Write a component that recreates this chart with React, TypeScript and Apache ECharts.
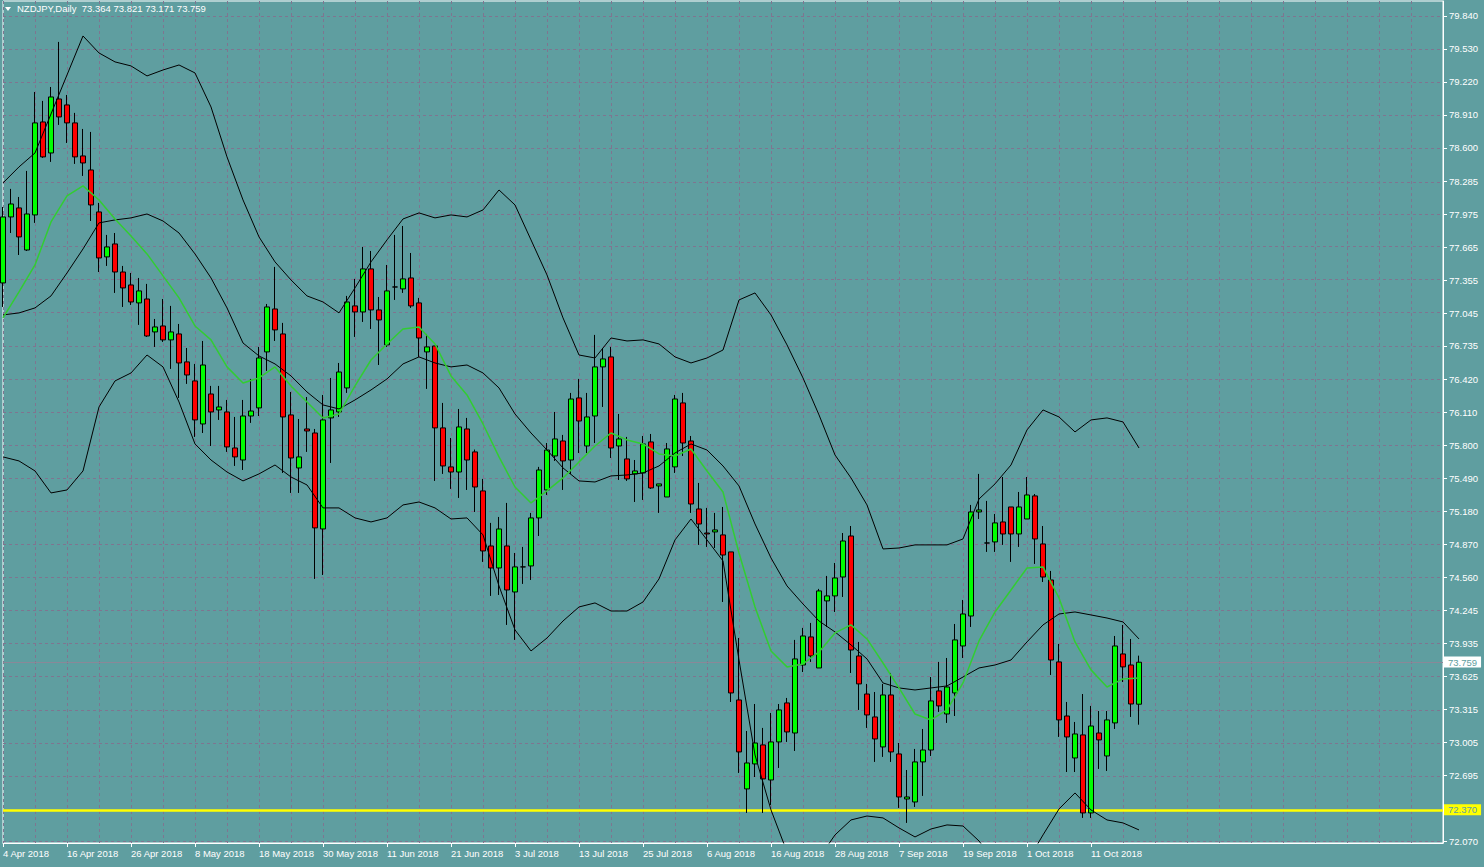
import React, { useEffect, useRef } from "react";
import * as echarts from "echarts";

const BG = "#5f9ea0";
const GRID = "#7f7590";
const FONT = "'Liberation Sans', Arial, sans-serif";

const symbolTitle = "NZDJPY,Daily  73.364 73.821 73.171 73.759";
const startDate = "2018-04-04";
const slotCount = 181; // 143 trading bars + empty chart shift on the right
const labelEvery = 8;
const lastLabelIndex = 136;

const bidPrice = 73.759;
const supportLevel = 72.37;

const yTicks = [
  79.84, 79.53, 79.22, 78.91, 78.6, 78.285, 77.975, 77.665, 77.355, 77.045, 76.735, 76.42, 76.11,
  75.8, 75.49, 75.18, 74.87, 74.56, 74.245, 73.935, 73.625, 73.315, 73.005, 72.695, 72.07,
];

const opens = [
  77.328, 77.949, 78.034, 77.638, 77.968, 78.843, 78.551, 79.059, 79.003, 78.834, 78.523, 78.391, 77.996, 77.573, 77.695, 77.431,
  77.309, 77.14, 77.177, 76.867, 76.923, 76.792, 76.848, 76.585, 76.406, 76.001, 76.283, 76.133, 76.114, 75.775, 75.662, 76.076,
  76.152, 76.679, 77.083, 76.848, 76.086, 75.587, 75.954, 75.916, 75.013, 76.058, 76.114, 76.34, 77.112, 77.055, 77.46, 77.074,
  76.745, 77.29, 77.272, 77.375, 77.14, 76.679, 76.735, 75.964, 75.597, 75.549, 75.954, 75.738, 75.371, 74.853, 74.646, 74.853,
  74.42, 74.656, 74.665, 75.117, 75.38, 75.7, 75.841, 75.662, 76.246, 75.794, 76.076, 76.538, 76.632, 75.794, 75.672, 75.531,
  75.54, 75.832, 75.418, 75.314, 75.597, 76.199, 75.841, 75.201, 74.975, 74.985, 74.957, 74.797, 73.404, 72.567, 72.802, 72.981,
  72.651, 73.009, 73.376, 73.093, 73.733, 73.997, 73.705, 74.336, 74.383, 74.561, 74.947, 73.818, 73.46, 73.244, 72.962, 73.451,
  72.896, 72.472, 72.444, 72.821, 72.933, 73.489, 73.272, 73.47, 73.912, 74.194, 75.173, 74.881, 74.891, 75.079, 75.22, 74.966,
  75.107, 75.324, 74.872, 74.533, 73.762, 73.253, 72.858, 73.075, 72.341, 73.093, 72.877, 73.188, 73.837, 73.733, 73.364,
];
const closes = [
  77.949, 78.071, 77.761, 77.977, 78.834, 78.514, 79.078, 78.89, 78.834, 78.514, 78.457, 78.062, 77.563, 77.667, 77.431, 77.281,
  77.149, 77.253, 76.829, 76.914, 76.792, 76.867, 76.575, 76.462, 76.039, 76.556, 76.114, 76.161, 75.785, 75.691, 76.076, 76.123,
  76.622, 77.102, 76.886, 76.067, 75.681, 75.691, 75.935, 75.023, 76.039, 76.133, 76.49, 77.149, 77.055, 77.46, 77.074, 76.98,
  77.253, 77.29, 77.366, 77.112, 76.81, 76.726, 75.964, 75.606, 75.549, 75.973, 75.662, 75.408, 74.806, 74.646, 75.013, 74.439,
  74.656, 74.656, 75.117, 75.568, 75.756, 75.86, 75.653, 76.236, 76.029, 76.067, 76.538, 76.613, 75.775, 75.86, 75.484, 75.559,
  75.813, 75.399, 75.437, 75.766, 76.236, 75.822, 75.248, 75.06, 74.966, 75.004, 74.768, 73.47, 72.915, 72.811, 72.999, 72.661,
  73.009, 73.31, 73.103, 73.79, 74.006, 73.818, 74.43, 74.383, 74.552, 74.9, 73.874, 73.555, 73.263, 73.037, 73.451, 72.915,
  72.491, 72.491, 72.821, 72.933, 73.395, 73.348, 73.526, 73.969, 74.213, 75.173, 75.192, 74.881, 75.07, 74.966, 74.966, 75.22,
  75.333, 74.919, 74.561, 73.78, 73.216, 73.056, 73.084, 72.341, 73.159, 73.028, 73.216, 73.912, 73.715, 73.366, 73.759,
];
const lows = [
  77.102, 77.798, 77.591, 77.629, 77.893, 78.505, 78.467, 78.815, 78.645, 78.448, 78.335, 77.911, 77.431, 77.488, 77.234, 77.102,
  77.121, 76.933, 76.82, 76.726, 76.773, 76.519, 76.246, 76.378, 75.879, 75.916, 75.794, 76.039, 75.738, 75.606, 75.568, 76.011,
  76.076, 76.5, 76.782, 75.54, 75.352, 75.352, 75.738, 74.543, 74.58, 75.634, 76.067, 76.293, 76.82, 76.961, 76.895, 76.556,
  76.726, 77.168, 77.234, 77.093, 76.632, 76.331, 75.465, 75.531, 75.39, 75.305, 75.38, 75.173, 74.703, 74.383, 74.392, 74.11,
  73.969, 74.496, 74.533, 74.947, 75.333, 75.653, 75.38, 75.531, 75.728, 75.728, 75.822, 76.161, 75.681, 75.474, 75.465, 75.267,
  75.286, 75.39, 75.164, 75.314, 75.54, 75.7, 75.164, 74.863, 74.844, 74.834, 74.326, 73.385, 72.717, 72.341, 72.679, 72.341,
  72.416, 72.764, 73.009, 72.924, 73.667, 73.762, 73.705, 74.091, 74.232, 74.373, 73.658, 73.31, 73.141, 72.821, 72.868, 72.821,
  72.388, 72.247, 72.397, 72.501, 72.877, 73.291, 73.188, 73.253, 73.799, 74.091, 75.107, 74.797, 74.797, 74.863, 74.703, 74.844,
  75.107, 74.684, 74.514, 73.639, 73.056, 72.726, 72.726, 72.294, 72.294, 72.755, 72.736, 73.131, 73.573, 73.244, 73.171,
];
const highs = [
  78.043, 78.213, 78.137, 78.382, 79.125, 79.041, 79.172, 79.596, 79.097, 78.928, 78.777, 78.749, 78.081, 77.78, 77.798, 77.488,
  77.422, 77.375, 77.319, 76.989, 77.177, 77.112, 76.942, 76.716, 76.566, 76.782, 76.359, 76.359, 76.227, 76.067, 76.227, 76.425,
  76.726, 77.13, 77.479, 76.952, 76.302, 76.048, 76.255, 75.954, 76.274, 76.434, 76.575, 77.206, 77.366, 77.667, 77.629, 77.196,
  77.497, 77.78, 77.864, 77.61, 77.187, 76.848, 76.735, 76.199, 75.869, 76.142, 76.058, 75.76, 75.484, 75.07, 75.126, 75.258,
  74.787, 74.844, 75.164, 75.597, 75.822, 76.114, 75.898, 76.293, 76.425, 76.293, 76.839, 76.716, 76.726, 76.095, 75.879, 75.662,
  75.888, 75.907, 75.437, 75.822, 76.274, 76.293, 75.888, 75.446, 75.211, 75.164, 75.22, 74.797, 73.987, 73.112, 73.366, 73.141,
  73.282, 73.366, 73.423, 73.969, 74.082, 74.129, 74.449, 74.571, 74.693, 74.975, 75.041, 73.95, 73.555, 73.479, 73.555, 73.658,
  72.999, 72.745, 72.943, 73.131, 73.62, 73.762, 73.799, 74.119, 74.345, 75.239, 75.531, 75.277, 75.154, 75.502, 75.22, 75.361,
  75.502, 75.342, 75.041, 74.618, 73.931, 73.385, 73.197, 73.46, 73.348, 73.3, 73.3, 74.006, 74.11, 73.978, 73.821,
];

// Indicator readings, one value every second bar (bars 0, 2, 4, ... 142)
const upperBand = [
  78.269, 78.42, 78.551, 78.918, 79.285, 79.652, 79.492, 79.408, 79.37, 79.276, 79.332, 79.379, 79.304, 78.984, 78.514, 78.109,
  77.761, 77.526, 77.356, 77.206, 77.149, 77.046, 77.281, 77.526, 77.733, 77.93, 77.987, 77.94, 77.968, 77.949, 78.015, 78.203,
  78.062, 77.733, 77.403, 76.999, 76.65, 76.622, 76.81, 76.782, 76.792, 76.754, 76.632, 76.575, 76.622, 76.697, 77.168, 77.234,
  77.027, 76.745, 76.434, 76.086, 75.709, 75.493, 75.239, 74.825, 74.834, 74.863, 74.863, 74.863, 74.919, 75.295, 75.437, 75.615,
  75.945, 76.133, 76.067, 75.926, 76.039, 76.058, 76.02, 75.775,
];
const middleBand = [
  77.027, 77.046, 77.093, 77.206, 77.422, 77.648, 77.893, 77.921, 77.94, 77.977, 77.911, 77.798, 77.601, 77.375, 77.093, 76.763,
  76.641, 76.566, 76.453, 76.302, 76.18, 76.142, 76.227, 76.321, 76.425, 76.566, 76.632, 76.575, 76.538, 76.556, 76.481, 76.34,
  76.095, 75.916, 75.756, 75.587, 75.465, 75.455, 75.512, 75.521, 75.54, 75.606, 75.728, 75.813, 75.756, 75.606, 75.418, 75.06,
  74.74, 74.477, 74.307, 74.147, 74.044, 73.922, 73.79, 73.564, 73.517, 73.498, 73.517, 73.536, 73.62, 73.705, 73.733, 73.78,
  73.95, 74.11, 74.213, 74.232, 74.204, 74.175, 74.138, 73.978,
];
const lowerBand = [
  75.691, 75.653, 75.559, 75.352, 75.38, 75.559, 76.161, 76.406, 76.481, 76.65, 76.538, 76.208, 75.813, 75.662, 75.549, 75.465,
  75.531, 75.615, 75.502, 75.427, 75.211, 75.211, 75.117, 75.079, 75.117, 75.239, 75.267, 75.211, 75.107, 75.117, 74.957, 74.477,
  74.063, 73.865, 73.987, 74.147, 74.279, 74.317, 74.241, 74.241, 74.326, 74.543, 74.91, 75.107, 74.91, 74.712, 73.78, 72.886,
  72.369, 71.974, 71.804, 71.917, 72.134, 72.275, 72.312, 72.294, 72.2, 72.115, 72.19, 72.228, 72.218, 72.077, 71.88, 71.729,
  71.88, 72.134, 72.378, 72.529, 72.369, 72.275, 72.247, 72.181,
];
const maLine = [
  76.999, 77.243, 77.497, 77.902, 78.147, 78.241, 78.109, 77.93, 77.77, 77.601, 77.394, 77.187, 76.923, 76.792, 76.538, 76.387,
  76.434, 76.538, 76.359, 76.208, 76.058, 76.095, 76.359, 76.603, 76.754, 76.895, 76.914, 76.754, 76.453, 76.274, 76.001, 75.691,
  75.408, 75.258, 75.371, 75.493, 75.644, 75.794, 75.916, 75.851, 75.813, 75.719, 75.7, 75.766, 75.559, 75.361, 74.787, 74.279,
  73.865, 73.715, 73.743, 73.856, 74.035, 74.11, 73.978, 73.752, 73.517, 73.272, 73.216, 73.31, 73.564, 73.959, 74.232, 74.439,
  74.646, 74.656, 74.364, 73.95, 73.687, 73.526, 73.602, 73.611,
];

const MONTHS = ["Jan", "Feb", "Mar", "Apr", "May", "Jun", "Jul", "Aug", "Sep", "Oct", "Nov", "Dec"];
function tradingDays(start: string, count: number): string[] {
  const out: string[] = [];
  const d = new Date(start + "T00:00:00Z");
  while (out.length < count) {
    const wd = d.getUTCDay();
    if (wd !== 0 && wd !== 6) out.push(`${d.getUTCDate()} ${MONTHS[d.getUTCMonth()]} ${d.getUTCFullYear()}`);
    d.setUTCDate(d.getUTCDate() + 1);
  }
  return out;
}
const categories = tradingDays(startDate, slotCount);

const everyOther = (vals: number[]) =>
  categories.map((_, i) => (i % 2 === 0 && i / 2 < vals.length ? vals[i / 2] : null));

export default function App() {
  const ref = useRef<HTMLDivElement>(null);
  useEffect(() => {
    if (!ref.current) return;
    const chart = echarts.init(ref.current, undefined, { renderer: "svg" });
    const candleData = opens.map((o, i) => [o, closes[i], lows[i], highs[i]]);
    const isLabel = (i: number) => i % labelEvery === 0 && i <= lastLabelIndex;
    const lineSeries = (name: string, vals: number[], color: string, width: number) => ({
      name,
      type: "line",
      data: everyOther(vals),
      connectNulls: true,
      symbol: "none",
      smooth: false,
      silent: true,
      lineStyle: { color, width },
      z: 3,
    });
    const gridLines = yTicks.map((v) => ({
      yAxis: v,
      lineStyle: { color: GRID, type: [3, 3], width: 1 },
      label: { show: false },
    }));
    chart.setOption({
      animation: false,
      backgroundColor: BG,
      textStyle: { fontFamily: FONT },
      grid: {
        left: 2,
        right: 41,
        top: 1,
        bottom: 24,
        show: true,
        backgroundColor: BG,
        borderColor: "#ffffff",
        borderWidth: 1,
      },
      xAxis: {
        type: "category",
        data: categories,
        boundaryGap: false,
        axisLine: { show: true, lineStyle: { color: "#ffffff", width: 1 } },
        axisTick: { show: true, interval: (i: number) => isLabel(i), length: 4, lineStyle: { color: "#ffffff" } },
        axisLabel: {
          interval: (i: number) => isLabel(i),
          align: "left",
          color: "#ffffff",
          fontSize: 9.5,
          fontFamily: FONT,
          margin: 5,
        },
        splitLine: { show: true, interval: (i: number) => i % 4 === 0, lineStyle: { color: GRID, type: [3, 3], width: 1 } },
      },
      yAxis: {
        type: "value",
        position: "right",
        min: 72.058,
        max: 79.981,
        axisLine: { show: true, lineStyle: { color: "#ffffff", width: 1 } },
        axisTick: { show: true, customValues: yTicks, length: 4, lineStyle: { color: "#ffffff" } },
        axisLabel: {
          customValues: yTicks,
          color: "#ffffff",
          fontSize: 9.5,
          fontFamily: FONT,
          margin: 6,
          formatter: (v: number) => v.toFixed(3),
        },
        splitLine: { show: false },
      },
      graphic: [
        { type: "polygon", shape: { points: [[5, 7], [11, 7], [8, 11]] }, style: { fill: "#ffffff" }, z: 10 },
        {
          type: "text",
          left: 17,
          top: 3,
          style: { text: symbolTitle, fill: "#ffffff", font: `9.5px ${FONT}` },
          z: 10,
        },
      ],
      series: [
        {
          name: "NZDJPY",
          type: "candlestick",
          data: candleData,
          barWidth: 5,
          silent: true,
          itemStyle: {
            color: "#00ff00",
            color0: "#ff0000",
            borderColor: "#000000",
            borderColor0: "#000000",
            borderWidth: 1,
          },
          markLine: {
            silent: true,
            symbol: ["none", "none"],
            animation: false,
            z: 1,
            data: [
              ...gridLines,
              {
                yAxis: bidPrice,
                lineStyle: { color: "#8a8898", width: 1, type: "solid" },
                label: {
                  show: true,
                  position: "end",
                  distance: 1,
                  formatter: bidPrice.toFixed(3),
                  backgroundColor: "#ffffff",
                  color: BG,
                  fontSize: 9.5,
                  fontFamily: FONT,
                  padding: [1, 4, 0, 4],
                },
              },
              {
                yAxis: supportLevel,
                lineStyle: { color: "#ffff00", width: 2.5, type: "solid" },
                label: {
                  show: true,
                  position: "end",
                  distance: 1,
                  formatter: supportLevel.toFixed(3),
                  backgroundColor: "#ffff00",
                  color: BG,
                  fontSize: 9.5,
                  fontFamily: FONT,
                  padding: [1, 4, 0, 4],
                },
              },
            ],
          },
          z: 2,
        },
        lineSeries("Upper band", upperBand, "#000000", 1),
        lineSeries("Middle band", middleBand, "#000000", 1),
        lineSeries("Lower band", lowerBand, "#000000", 1),
        lineSeries("Moving average", maLine, "#32cd32", 1.5),
      ],
    });
    return () => chart.dispose();
  }, []);
  return (
    <div
      ref={ref}
      style={{ position: "absolute", left: 0, top: 0, width: 1484, height: 867, background: BG }}
    />
  );
}
